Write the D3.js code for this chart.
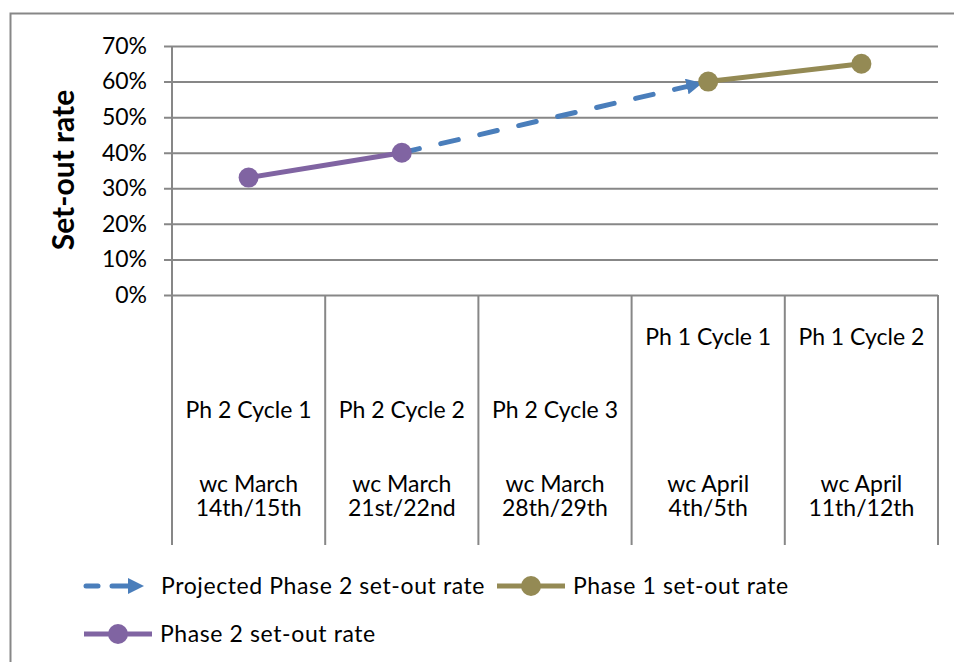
<!DOCTYPE html>
<html>
<head>
<meta charset="utf-8">
<script src="https://cdn.jsdelivr.net/npm/d3@7"></script>
<style>
  body { margin: 0; background: #fff; }
  svg text { font-family: Lato, "Open Sans", sans-serif; fill: #000; }
</style>
</head>
<body>
<svg id="chart" width="954" height="662"></svg>
<script>
// category labels, one entry per line (Excel wrapped labels)
var categories = [
  ["Ph 2 Cycle 1", "", "", "wc March", "14th/15th"],
  ["Ph 2 Cycle 2", "", "", "wc March", "21st/22nd"],
  ["Ph 2 Cycle 3", "", "", "wc March", "28th/29th"],
  ["Ph 1 Cycle 1", "", "", "", "", "", "wc April", "4th/5th"],
  ["Ph 1 Cycle 2", "", "", "", "", "", "wc April", "11th/12th"]
];
var phase2 = [0.33, 0.40, null, null, null];
var projected = [null, 0.40, 0.50, 0.60, null];
var phase1 = [null, null, null, 0.60, 0.65];
var yTicks = [0, 0.1, 0.2, 0.3, 0.4, 0.5, 0.6, 0.7];

var svg = d3.select("#chart");
var pLeft = 172, pRight = 938, pTop = 46, pBottom = 295, catBottom = 545;
var grey = "#878787";
var fs = "23px";

// outer chart frame, runs off the right and bottom of the picture
svg.append("rect")
    .attr("x", 10.5).attr("y", 13.5)
    .attr("width", 1000).attr("height", 1000)
    .attr("fill", "none").attr("stroke", grey).attr("stroke-width", 2);

var x = d3.scaleBand().domain(d3.range(categories.length)).range([pLeft, pRight]).padding(0);
var y = d3.scaleLinear().domain([0, 0.7]).range([pBottom, pTop]);
var cx = function (i) { return x(i) + x.bandwidth() / 2; };

// gridlines + y ticks
var yAxis = d3.axisLeft(y)
    .tickValues(yTicks)
    .tickFormat(d3.format(".0%"))
    .tickSize(-(pRight - pLeft));

var gy = svg.append("g").attr("transform", "translate(" + pLeft + ",0)").call(yAxis);
gy.select(".domain").remove();
gy.selectAll(".tick line")
    .attr("x1", -8)
    .attr("stroke", grey).attr("stroke-width", 2);
gy.selectAll(".tick text")
    .attr("font-size", fs)
    .attr("x", -25);
gy.attr("font-family", null);

// vertical axis line and category dividers
svg.append("line")
    .attr("x1", pLeft).attr("x2", pLeft).attr("y1", pTop).attr("y2", catBottom)
    .attr("stroke", grey).attr("stroke-width", 2);
var bounds = d3.range(1, categories.length + 1).map(function (i) {
  return x(i - 1) + x.bandwidth();
});
svg.selectAll("line.div")
    .data(bounds)
    .enter().append("line")
    .attr("class", "div")
    .attr("x1", function (d) { return d; }).attr("x2", function (d) { return d; })
    .attr("y1", pBottom).attr("y2", catBottom)
    .attr("stroke", grey).attr("stroke-width", 2);

// category labels, bottom aligned, one text per category
var lineH = 24.5, lastBase = 516;
svg.selectAll("text.cat")
    .data(categories)
    .enter().append("text")
    .attr("class", "cat")
    .attr("text-anchor", "middle")
    .attr("font-size", fs)
    .each(function (lines, i) {
      var t = d3.select(this);
      lines.forEach(function (s, k) {
        if (!s) return;
        t.append("tspan")
            .attr("x", cx(i))
            .attr("y", lastBase - (lines.length - 1 - k) * lineH)
            .text(s);
      });
    });

// y title
svg.append("text")
    .attr("transform", "translate(74,170) rotate(-90)")
    .attr("text-anchor", "middle")
    .attr("font-size", "30px")
    .attr("font-weight", "bold")
    .text("Set-out rate");

// arrow head
svg.append("defs").append("marker")
    .attr("id", "arrow")
    .attr("viewBox", "0 0 10 10")
    .attr("refX", 5).attr("refY", 5)
    .attr("markerWidth", 3.2).attr("markerHeight", 3.2)
    .attr("orient", "auto")
    .attr("markerUnits", "strokeWidth")
    .append("path")
    .attr("d", "M0,0 L10,5 L0,10 z")
    .attr("fill", "#4A7EBB");

var line = d3.line()
    .defined(function (d) { return d != null; })
    .x(function (d, i) { return cx(i); })
    .y(function (d) { return y(d); });

// projected: dashed with arrow, the head stops just short of the last point
var projPts = [];
projected.forEach(function (d, i) { if (d != null) projPts.push([cx(i), y(d)]); });
var p0 = projPts[0], p1 = projPts[projPts.length - 1];
var dx = p1[0] - p0[0], dy = p1[1] - p0[1], len = Math.sqrt(dx * dx + dy * dy);
var cut = 14;
svg.append("path")
    .attr("d", d3.line()([p0, [p1[0] - dx / len * cut, p1[1] - dy / len * cut]]))
    .attr("fill", "none")
    .attr("stroke", "#4A7EBB")
    .attr("stroke-width", 5)
    .attr("stroke-linecap", "round")
    .attr("stroke-dasharray", "18,22")
    .attr("marker-end", "url(#arrow)");

function drawSeries(data, color) {
  svg.append("path")
      .attr("d", line(data))
      .attr("fill", "none")
      .attr("stroke", color)
      .attr("stroke-width", 5);
  svg.selectAll(null)
      .data(data.map(function (d, i) { return {v: d, i: i}; }).filter(function (d) { return d.v != null; }))
      .enter().append("circle")
      .attr("cx", function (d) { return cx(d.i); })
      .attr("cy", function (d) { return y(d.v); })
      .attr("r", 10)
      .attr("fill", color);
}
drawSeries(phase1, "#948A54");
drawSeries(phase2, "#8064A2");

// legend
var legend = [
  {name: "Projected Phase 2 set-out rate", color: "#4A7EBB", type: "arrow", x: 84, y: 586},
  {name: "Phase 1 set-out rate", color: "#948A54", type: "marker", x: 497, y: 586},
  {name: "Phase 2 set-out rate", color: "#8064A2", type: "marker", x: 84, y: 634}
];
svg.selectAll("g.leg").data(legend).enter().append("g")
    .attr("class", "leg")
    .attr("transform", function (d) { return "translate(" + d.x + "," + d.y + ")"; })
    .each(function (d) {
      var g = d3.select(this);
      if (d.type === "arrow") {
        g.append("line").attr("x1", 2).attr("x2", 14).attr("y1", 0).attr("y2", 0)
            .attr("stroke", d.color).attr("stroke-width", 5).attr("stroke-linecap", "round");
        g.append("line").attr("x1", 28).attr("x2", 52).attr("y1", 0).attr("y2", 0)
            .attr("stroke", d.color).attr("stroke-width", 5).attr("stroke-linecap", "round")
            .attr("marker-end", "url(#arrow)");
      } else {
        g.append("line").attr("x1", 0).attr("x2", 68).attr("y1", 0).attr("y2", 0)
            .attr("stroke", d.color).attr("stroke-width", 5);
        g.append("circle").attr("cx", 34).attr("cy", 0).attr("r", 10).attr("fill", d.color);
      }
      g.append("text")
          .attr("x", d.type === "arrow" ? 77 : 76)
          .attr("y", 8)
          .attr("font-size", fs)
          .attr("letter-spacing", "0.6px")
          .text(d.name);
    });
</script>
</body>
</html>
